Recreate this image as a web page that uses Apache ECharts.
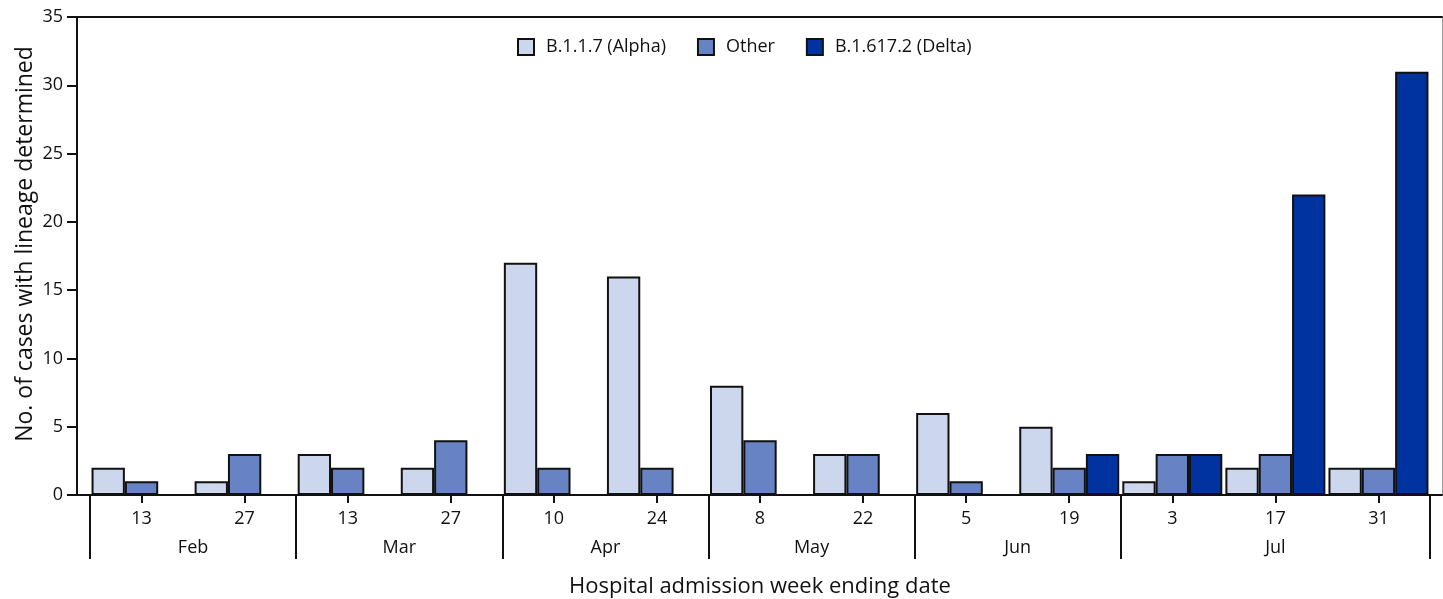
<!DOCTYPE html>
<html>
<head>
<meta charset="utf-8">
<script src="https://cdn.jsdelivr.net/npm/echarts@6/dist/echarts.min.js"></script>
<style>
html,body{margin:0;padding:0;background:#fff;}
#c{width:1443px;height:599px;}
</style>
</head>
<body>
<div id="c"></div>
<script>
// Data
const weekDays   = ['13','27','13','27','10','24','8','22','5','19','3','17','31'];
const weekMonths = ['Feb','Feb','Mar','Mar','Apr','Apr','May','May','Jun','Jun','Jul','Jul','Jul'];
const alphaVals  = [2, 1, 3, 2, 17, 16, 8, 3, 6, 5, 1, 2, 2];
const otherVals  = [1, 3, 2, 4, 2, 2, 4, 3, 1, 2, 3, 3, 2];
const deltaVals  = [null, null, null, null, null, null, null, null, null, 3, 3, 22, 31];
const yTicks     = [0, 5, 10, 15, 20, 25, 30, 35];
const seriesNames = ['B.1.1.7 (Alpha)', 'Other', 'B.1.617.2 (Delta)'];

// month boundaries (in category units) and month label centers
const monthNames = [];
const monthBounds = [0];
const monthCenters = [];
weekMonths.forEach((m, i) => {
  if (monthNames.length === 0 || monthNames[monthNames.length - 1] !== m) {
    if (monthNames.length) monthBounds.push(i);
    monthNames.push(m);
  }
});
monthBounds.push(weekMonths.length);
for (let k = 0; k < monthNames.length; k++) {
  monthCenters.push((monthBounds[k] + monthBounds[k + 1]) / 2);
}

const FONT = 'Open Sans';
const colors = ['#CCD6EC', '#6783C4', '#0033A0'];

const chart = echarts.init(document.getElementById('c'), null, {renderer: 'canvas'});
const mkSeries = (name, data, color) => ({
  name, type: 'bar', data, xAxisIndex: 0, yAxisIndex: 0,
  barGap: '0%', barCategoryGap: '3%',
  itemStyle: {color, borderColor: '#111', borderWidth: 2},
  emphasis: {disabled: true}
});

chart.setOption({
  animation: false,
  textStyle: {fontFamily: FONT},
  legend: {
    left: 517, top: 38, padding: 0,
    icon: 'rect',
    itemWidth: 16, itemHeight: 16, itemGap: 31,
    textStyle: {fontFamily: FONT, fontSize: 18, color: '#111', padding: [0, 0, 0, 7]},
    data: seriesNames
  },
  grid: [
    {left: 90, right: 13, top: 17, bottom: 104, containLabel: false, outerBoundsMode: 'none'},
    {left: 77, right: 1, top: 17, bottom: 104, containLabel: false, outerBoundsMode: 'none'}
  ],
  xAxis: [
    {
      gridIndex: 0, type: 'category', data: weekDays, position: 'bottom',
      axisLine: {show: true, onZero: false, lineStyle: {color: '#111', width: 2}},
      axisTick: {show: true, alignWithLabel: true, length: 8, lineStyle: {color: '#111', width: 2}},
      axisLabel: {fontFamily: FONT, fontSize: 18, color: '#111', margin: 15, interval: 0},
      splitLine: {show: false}
    },
    {
      gridIndex: 0, type: 'value', min: 0, max: weekMonths.length, position: 'bottom',
      axisLine: {show: false, onZero: false},
      axisTick: {show: true, length: 64, customValues: monthBounds, lineStyle: {color: '#111', width: 2}},
      axisLabel: {
        fontFamily: FONT, fontSize: 18, color: '#111', margin: 44,
        customValues: monthCenters,
        formatter: v => {
          const k = monthCenters.findIndex(c => Math.abs(c - v) < 1e-6);
          return k >= 0 ? monthNames[k] : '';
        }
      },
      splitLine: {show: false},
      name: 'Hospital admission week ending date', nameLocation: 'middle', nameGap: 81,
      nameTextStyle: {fontFamily: FONT, fontSize: 22, color: '#111'}
    },
    {
      gridIndex: 1, type: 'value', min: 0, max: 1, position: 'top',
      axisLine: {show: true, onZero: false, lineStyle: {color: '#111', width: 2}},
      axisTick: {show: false}, axisLabel: {show: false}, splitLine: {show: false}
    },
    {
      gridIndex: 1, type: 'value', min: 0, max: 1, position: 'bottom',
      axisLine: {show: true, onZero: false, lineStyle: {color: '#111', width: 2}},
      axisTick: {show: false}, axisLabel: {show: false}, splitLine: {show: false}
    }
  ],
  yAxis: [
    {
      gridIndex: 0, type: 'value', min: yTicks[0], max: yTicks[yTicks.length - 1], interval: yTicks[1] - yTicks[0],
      offset: 13,
      axisLine: {show: true, onZero: false, lineStyle: {color: '#111', width: 2}},
      axisTick: {show: true, length: 10, lineStyle: {color: '#111', width: 2}},
      axisLabel: {fontFamily: FONT, fontSize: 18, color: '#111', margin: 14},
      splitLine: {show: false},
      name: 'No. of cases with lineage determined', nameLocation: 'middle', nameGap: 40, nameMoveOverlap: false,
      nameTextStyle: {fontFamily: FONT, fontSize: 23, color: '#111', padding: [0, 0, 0, 24]}
    },
    {
      gridIndex: 1, type: 'value', min: 0, max: 1, position: 'right',
      axisLine: {show: true, onZero: false, lineStyle: {color: '#999', width: 1}},
      axisTick: {show: false}, axisLabel: {show: false}, splitLine: {show: false}
    }
  ],
  series: [
    mkSeries(seriesNames[0], alphaVals, colors[0]),
    mkSeries(seriesNames[1], otherVals, colors[1]),
    mkSeries(seriesNames[2], deltaVals, colors[2])
  ]
});
</script>
</body>
</html>
